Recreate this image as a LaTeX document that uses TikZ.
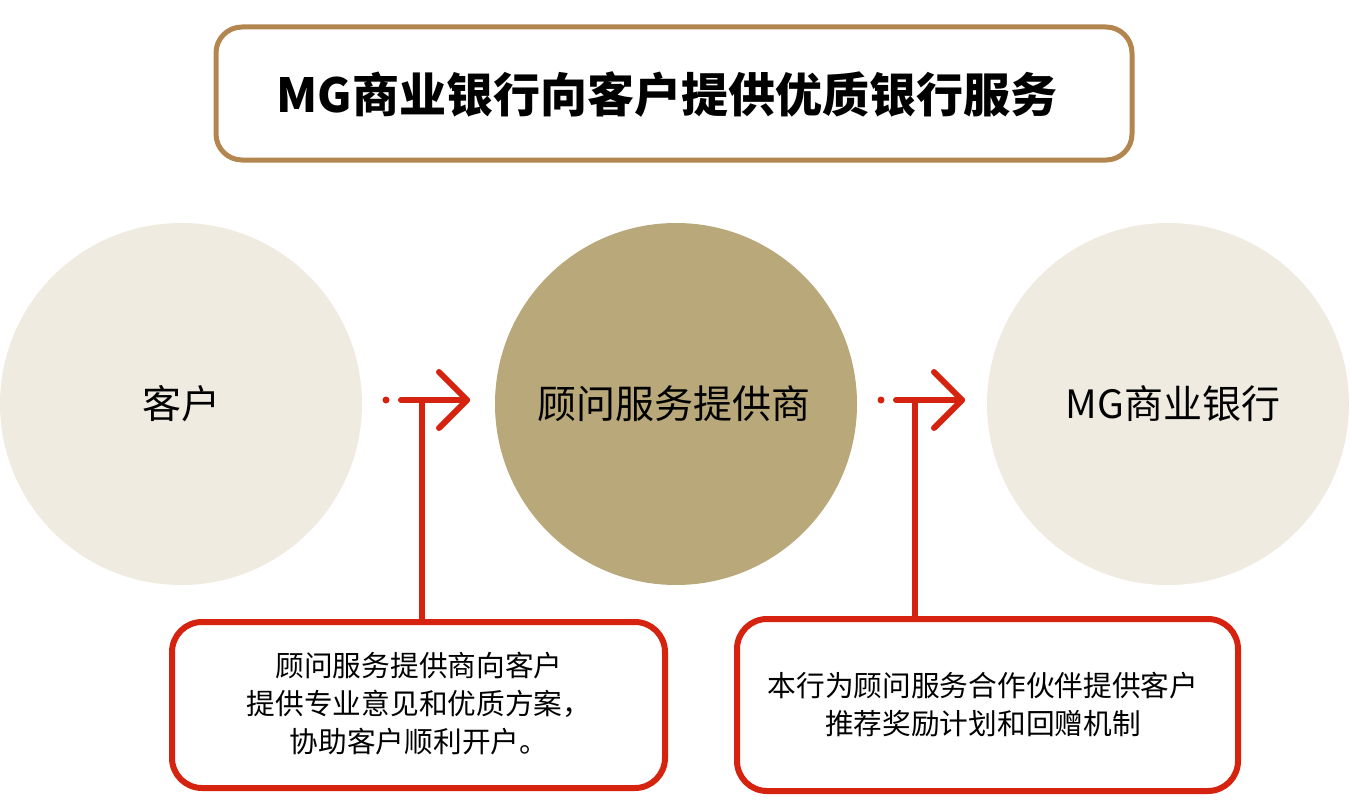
\documentclass[tikz,border=0pt]{standalone}
\usepackage{fontspec}
\setmainfont{Noto Sans CJK SC}
\definecolor{brownline}{HTML}{B3864F}
\definecolor{lightbeige}{HTML}{EFEBE1}
\definecolor{khaki}{HTML}{B8A87A}
\definecolor{redline}{HTML}{D6230F}
\tikzset{
  titlebox/.style={draw=brownline, line width=5pt, rounded corners=26pt, fill=white},
  circ/.style={circle, minimum size=362pt, inner sep=0pt, draw=none},
  notebox/.style={draw=redline, line width=6pt, rounded corners=30pt, fill=white},
  redarrow/.style={draw=redline, line width=6pt, line cap=round, line join=round},
  bigtxt/.style={font=\fontsize{39}{46}\selectfont},
  smalltxt/.style={font=\fontsize{28.7}{38}\selectfont, align=center}
}
\begin{document}
\begin{tikzpicture}[x=1pt,y=-1pt]
\useasboundingbox (0,0) rectangle (1350,800);
% title
\draw[titlebox] (216,27) rectangle (1132,160);
\node[font=\bfseries\fontsize{47}{54}\selectfont] (title) at (667,95) {MG商业银行向客户提供优质银行服务};
% circles
\node[circ, fill=lightbeige] (c1) at (181,404) {};
\node[circ, fill=khaki] (c2) at (676,404) {};
\node[circ, fill=lightbeige] (c3) at (1168,404) {};
\node[bigtxt] (t1) at (181,404) {客户};
\node[bigtxt] (t2) at (674,404) {顾问服务提供商};
\node[bigtxt] (t3) at (1173,404) {MG商业银行};
% boxes
\draw[notebox] (172,622) rectangle (665,788);
\node[smalltxt] (b1) at (419,704) {顾问服务提供商向客户\\提供专业意见和优质方案，\\协助客户顺利开户。};
\draw[notebox] (737,619) rectangle (1238,791);
\node[smalltxt] (b2) at (983,705) {本行为顾问服务合作伙伴提供客户\\推荐奖励计划和回赠机制};
% arrow 1
\coordinate (d1) at (386,400);
\coordinate (s1) at (401,400);
\coordinate (e1) at (467,400);
\coordinate (u1) at (439,372);
\coordinate (l1) at (439,428);
\coordinate (j1) at (422,400);
\coordinate (k1) at (422,622);
\fill[redline] (d1) circle (3.5pt);
\draw[redarrow] (s1) -- (e1);
\draw[redarrow] (u1) -- (e1) -- (l1);
\draw[redline, line width=6pt] (j1) -- (k1);
% arrow 2
\coordinate (d2) at (881,400);
\coordinate (s2) at (896,400);
\coordinate (e2) at (962,400);
\coordinate (u2) at (934,372);
\coordinate (l2) at (934,428);
\coordinate (j2) at (915,400);
\coordinate (k2) at (915,619);
\fill[redline] (d2) circle (3.5pt);
\draw[redarrow] (s2) -- (e2);
\draw[redarrow] (u2) -- (e2) -- (l2);
\draw[redline, line width=6pt] (j2) -- (k2);
\end{tikzpicture}
\end{document}
